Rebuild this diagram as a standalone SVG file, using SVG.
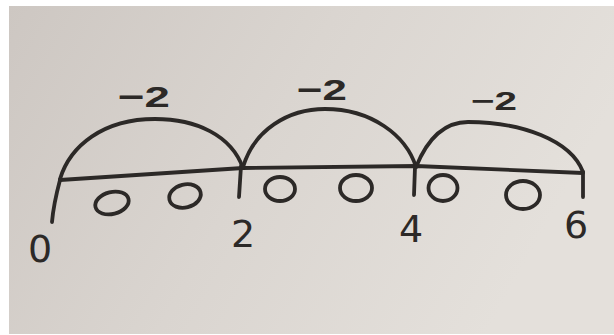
<svg xmlns="http://www.w3.org/2000/svg" width="614" height="335" viewBox="0 0 614 335">
  <defs>
    <linearGradient id="paper" x1="0" y1="0" x2="1" y2="0.3">
      <stop offset="0" stop-color="#cdc7c2"/>
      <stop offset="0.5" stop-color="#dad5d0"/>
      <stop offset="1" stop-color="#e4e0db"/>
    </linearGradient>
  </defs>
  <style>
    .ink{fill:none;stroke:#2c2927;stroke-width:3.8;stroke-linecap:round;stroke-linejoin:round}
    .num{font-family:"DejaVu Sans","Liberation Sans",sans-serif;font-size:38px;fill:#2c2927;text-anchor:middle}
    .jump{font-family:"Liberation Sans","DejaVu Sans",sans-serif;font-weight:bold;fill:#2c2927;text-anchor:middle}
  </style>
  <rect x="0" y="0" width="614" height="335" fill="#ffffff"/>
  <rect x="9" y="6" width="605" height="328" fill="url(#paper)"/>

  <g id="number-line">
    <path class="ink" d="M60,180 L243,168 L416,166 L583,173"/>
    <path class="ink" d="M60,180 C56,195 53,210 52,222"/>
    <path class="ink" d="M241,166 L239,197"/>
    <path class="ink" d="M415,167 L414,195"/>
    <path class="ink" d="M583,172 L583,197"/>
  </g>

  <g id="connectors">
    <path class="ink" d="M60,179 C70,146 103,119 155,119 C196,119 231,135 243,168"/>
    <path class="ink" d="M243,167 C254,130 288,109 325,109 C371,109 406,135 416,167"/>
    <path class="ink" d="M416,167 C427,140 444,122 468,122 C521,122 571,140 583,172"/>
  </g>

  <g id="counters">
    <ellipse class="ink" cx="112" cy="203" rx="17" ry="11" transform="rotate(-14 112 203)"/>
    <ellipse class="ink" cx="185" cy="196" rx="16" ry="11.5" transform="rotate(-14 185 196)"/>
    <ellipse class="ink" cx="280" cy="189" rx="15" ry="12"/>
    <ellipse class="ink" cx="356" cy="188" rx="16" ry="13"/>
    <ellipse class="ink" cx="443" cy="188" rx="14.5" ry="13"/>
    <ellipse class="ink" cx="523" cy="195" rx="17" ry="14"/>
  </g>

  <g id="label-0"><text class="num" x="40" y="262">0</text></g>
  <g id="label-2"><text class="num" x="243" y="247">2</text></g>
  <g id="label-4"><text class="num" x="411" y="242">4</text></g>
  <g id="label-6"><text class="num" x="576" y="238">6</text></g>

  <g id="jump-1"><text class="jump" x="144" y="107" font-size="30" textLength="52" lengthAdjust="spacingAndGlyphs">−2</text></g>
  <g id="jump-2"><text class="jump" x="322" y="100" font-size="30" textLength="50" lengthAdjust="spacingAndGlyphs">−2</text></g>
  <g id="jump-3"><text class="jump" x="494" y="110" font-size="26" textLength="46" lengthAdjust="spacingAndGlyphs">−2</text></g>
</svg>
